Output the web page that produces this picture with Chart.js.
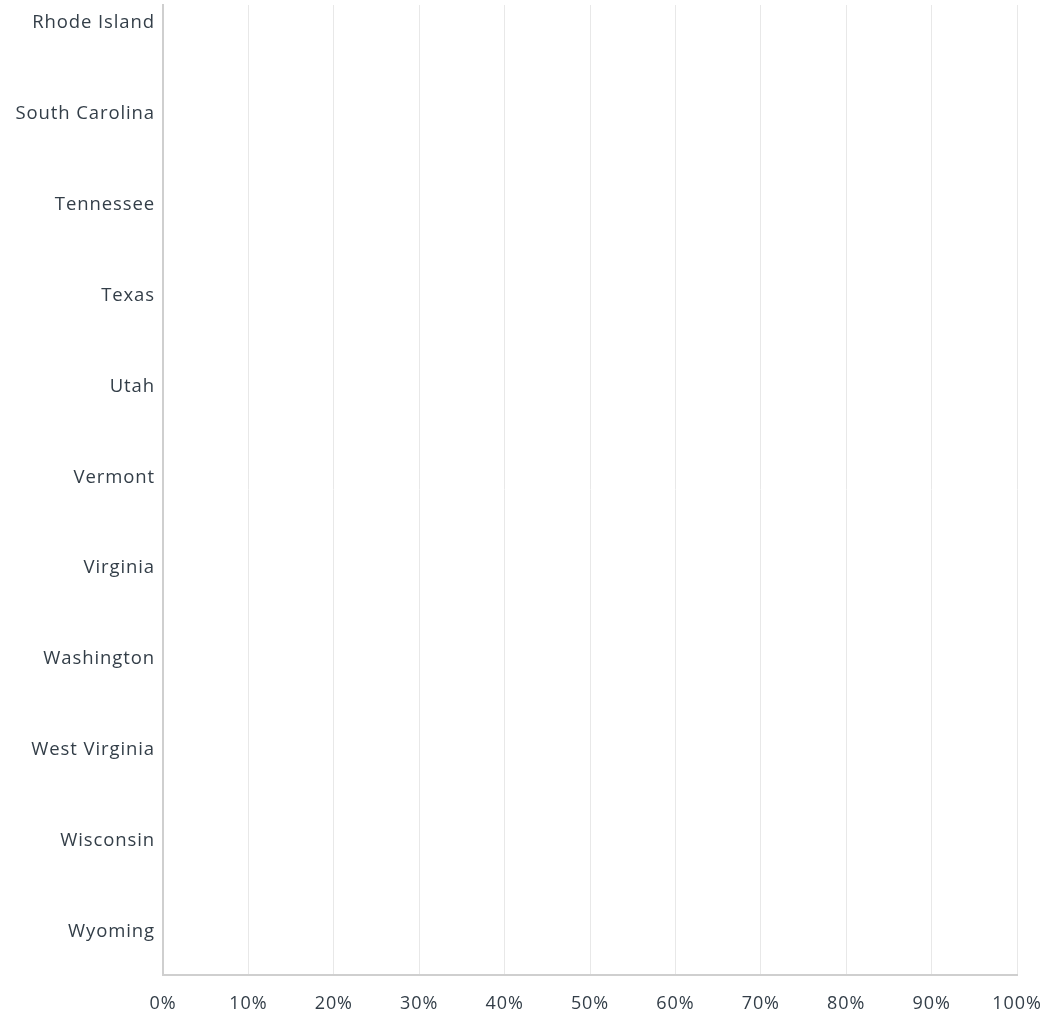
<!DOCTYPE html>
<html>
<head>
<meta charset="utf-8">
<script src="https://cdn.jsdelivr.net/npm/chart.js@4"></script>
<style>
  html, body { margin: 0; padding: 0; background: #fff; }
  #wrap { width: 1040px; height: 1021px; position: relative; }
</style>
</head>
<body>
<div id="wrap"><canvas id="c"></canvas></div>
<script>
const categories = ["Rhode Island", "South Carolina", "Tennessee", "Texas", "Utah", "Vermont", "Virginia", "Washington", "West Virginia", "Wisconsin", "Wyoming"];
const seriesValues = [null, null, null, null, null, null, null, null, null, null, null];
const xTicks = [0, 10, 20, 30, 40, 50, 60, 70, 80, 90, 100];

const textColor = "#333e48";
const fontFamily = "'Open Sans', sans-serif";

const spacingPlugin = {
  id: "spacing",
  beforeInit(chart) { chart.ctx.letterSpacing = "0.9px"; },
  beforeLayout(chart) { chart.ctx.letterSpacing = "0.9px"; },
  beforeDraw(chart) { chart.ctx.letterSpacing = "0.9px"; }
};

new Chart(document.getElementById("c"), {
  type: "bar",
  plugins: [spacingPlugin],
  data: {
    datasets: [{
      label: "Responses",
      data: categories.map((c, i) => ({ x: seriesValues[i], y: i })),
      backgroundColor: "#00bf6f"
    }]
  },
  options: {
    indexAxis: "y",
    responsive: true,
    maintainAspectRatio: false,
    animation: false,
    layout: { padding: { top: 5, right: 0, left: 0, bottom: 0 } },
    plugins: { legend: { display: false }, tooltip: { enabled: false } },
    scales: {
      x: {
        type: "linear",
        min: 0, max: 100,
        afterBuildTicks: s => { s.ticks = xTicks.map(v => ({ value: v })); },
        ticks: { callback: v => v + "%", color: textColor, font: { family: fontFamily, size: 18 }, padding: 18, maxRotation: 0 },
        grid: { color: "#e8e8e8", drawTicks: false, lineWidth: 1 },
        border: { color: "#cfcfcf", width: 2 },
        afterFit: s => { s.height = 46; s.paddingRight = 23; }
      },
      y: {
        type: "linear",
        reverse: true,
        offset: false,
        min: -0.2, max: 10.48,
        afterBuildTicks: s => { s.ticks = categories.map((c, i) => ({ value: i })); },
        ticks: { callback: v => categories[v], color: textColor, font: { family: fontFamily, size: 18.5 }, padding: 8, autoSkip: false },
        grid: { display: false, drawTicks: false },
        border: { color: "#cfcfcf", width: 2 },
        afterFit: s => { s.width = 163; s.paddingTop = 0; s.paddingBottom = 0; }
      }
    }
  }
});
</script>
</body>
</html>
